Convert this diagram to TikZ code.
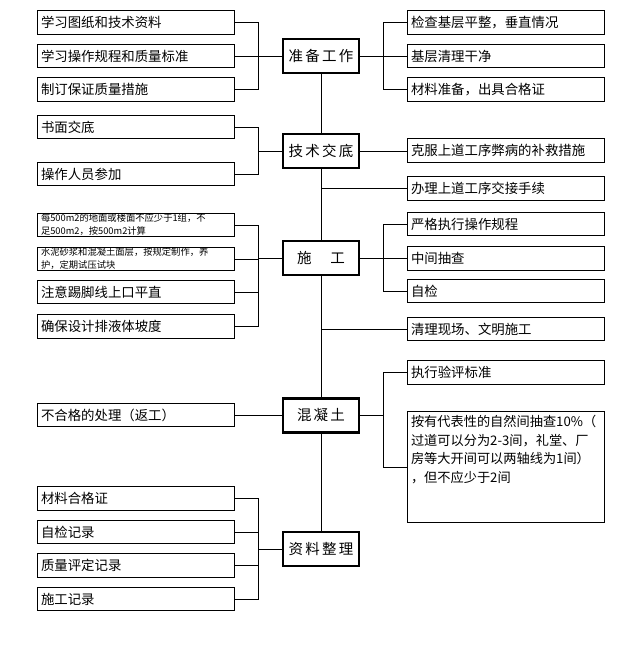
\documentclass[tikz,border=0pt]{standalone}
\usepackage{fontspec}
\newfontfamily\cjk{Noto Sans CJK SC}
\newfontfamily\cjkwide[LetterSpace=15]{Noto Sans CJK SC}
\usetikzlibrary{positioning}

\begin{document}
\begin{tikzpicture}[x=1pt, y=-1pt,
  item/.style={draw, line width=0.9pt, fill=white, minimum height=23.5pt,
    text width=189pt, inner xsep=4pt, inner ysep=0pt, align=left,
    font=\cjk\fontsize{13.4}{15}\selectfont},
  note/.style={item, font=\cjk\fontsize{9.3}{13}\selectfont},
  stage/.style={draw, line width=2.2pt, fill=white, minimum width=76pt,
    minimum height=34pt, inner sep=0pt, font=\cjkwide\fontsize{14.5}{18}\selectfont},
  link/.style={line width=0.9pt}
]
\useasboundingbox (0,0) rectangle (640,647);
\coordinate (busL) at (258,0);
\coordinate (busR) at (384,0);

\node[stage] (prep) at (321,56) {准备工作};
\node[stage] (tech) at (321,151) {技术交底};
\node[stage] (work) at (321,258) {施　工};
\node[stage] (conc) at (321,415.5) {混凝土};
\node[stage] (data) at (321,549) {资料整理};

\node[item] (P1) at (135.5,22.5) {学习图纸和技术资料};
\node[item] (P2) at (135.5,56) {学习操作规程和质量标准};
\node[item] (P3) at (135.5,89.5) {制订保证质量措施};
\node[item] (T1) at (135.5,127) {书面交底};
\node[item] (T2) at (135.5,174) {操作人员参加};
\node[note] (W1) at (135.5,225) {每500m2的地面或楼面不应少于1组，不\\足500m2，按500m2计算};
\node[note] (W2) at (135.5,259) {水泥砂浆和混凝土面层，按规定制作，养\\护，定期试压试块};
\node[item] (W3) at (135.5,292) {注意踢脚线上口平直};
\node[item] (W4) at (135.5,326.5) {确保设计排液体坡度};
\node[item] (C1) at (135.5,415) {不合格的处理（返工）};
\node[item] (D1) at (135.5,498.5) {材料合格证};
\node[item] (D2) at (135.5,532) {自检记录};
\node[item] (D3) at (135.5,565.5) {质量评定记录};
\node[item] (D4) at (135.5,599) {施工记录};

\node[item] (Q1) at (505.5,22.5) {检查基层平整，垂直情况};
\node[item] (Q2) at (505.5,56) {基层清理干净};
\node[item] (Q3) at (505.5,89.5) {材料准备，出具合格证};
\node[item] (U1) at (505.5,150.5) {克服上道工序弊病的补救措施};
\node[item] (U2) at (505.5,188.5) {办理上道工序交接手续};
\node[item] (V1) at (505.5,224) {严格执行操作规程};
\node[item] (V2) at (505.5,258.5) {中间抽查};
\node[item] (V3) at (505.5,291) {自检};
\node[item] (V4) at (505.5,329) {清理现场、文明施工};
\node[item] (K1) at (505.5,372.5) {执行验评标准};
\node[item, anchor=north, inner ysep=3pt, text height=12pt, text depth=93pt,
  font=\cjk\fontsize{13.2}{18.7}\selectfont] (K2) at (505.5,411)
  {按有代表性的自然间抽查10\%（\\过道可以分为2-3间，礼堂、厂\\房等大开间可以两轴线为1间）\\，但不应少于2间};

\draw[link] (prep) -- (tech) -- (work) -- (conc) -- (data);

\draw[link] (P1.east) -- ++(24,0) |- (P3.east);
\draw[link] (P2.east) -- (prep.west);
\draw[link] (prep.east) -- (Q2.west);
\draw[link] (Q1.west) -- ++(-23,0) |- (Q3.west);

\draw[link] (T1.east) -- ++(24,0) |- (T2.east);
\draw[link] (tech.west) -- (tech.west -| busL);
\draw[link] (tech.east) -- (tech.east -| U1.west);
\draw[link] (tech.south |- U2.west) -- (U2.west);

\draw[link] (W1.east) -- ++(24,0) |- (W4.east);
\draw[link] (W2.east) -- (W2.east -| busL);
\draw[link] (W3.east) -- (W3.east -| busL);
\draw[link] (work.west) -- (work.west -| busL);
\draw[link] (V1.west) -- ++(-23,0) |- (V3.west);
\draw[link] (work.east) -- (work.east -| V2.west);
\draw[link] (work.south |- V4.west) -- (V4.west);

\draw[link] (C1.east) -- (C1.east -| conc.west);
\draw[link] (K1.west) -- ++(-23,0) |- (K2.west);
\draw[link] (conc.east) -- (conc.east -| busR);

\draw[link] (D1.east) -- ++(24,0) |- (D4.east);
\draw[link] (D2.east) -- (D2.east -| busL);
\draw[link] (D3.east) -- (D3.east -| busL);
\draw[link] (data.west) -- (data.west -| busL);
\end{tikzpicture}
\end{document}
